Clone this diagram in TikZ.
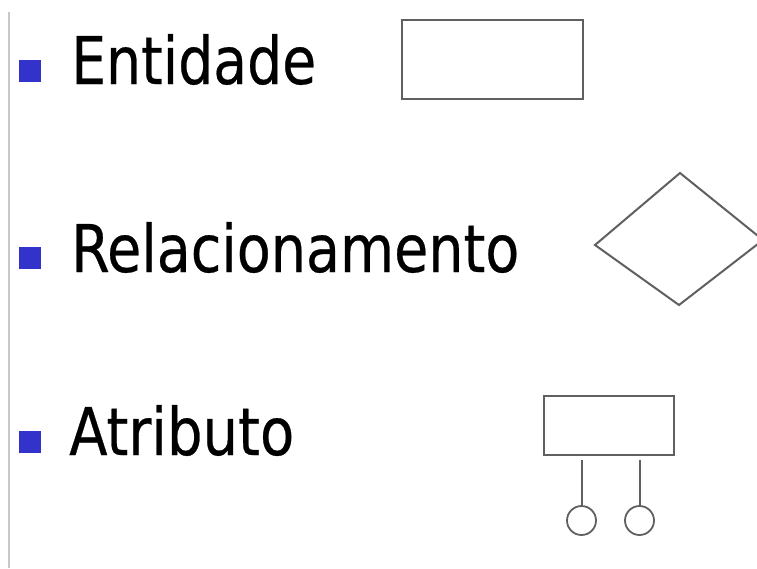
\documentclass[tikz,border=0pt]{standalone}
\usepackage{fontspec}
\setmainfont[FakeBold=0.4]{DejaVu Sans Condensed}
\usepackage{graphicx}
\definecolor{bulletblue}{HTML}{3333CC}
\definecolor{rulegray}{HTML}{C8C8C8}
\definecolor{shapegray}{HTML}{606060}
\begin{document}
\begin{tikzpicture}[x=1pt,y=-1pt,
  bulletsq/.style={fill=bulletblue,draw=none,minimum size=22pt,inner sep=0pt},
  label/.style={inner sep=0pt,anchor=base west,text=black},
  shapeline/.style={draw=shapegray,line width=2pt},
  attrcircle/.style={circle,draw=shapegray,line width=1.8pt,minimum size=29pt,inner sep=0pt}]
\useasboundingbox (0,0) rectangle (757,568);
\clip (0,0) rectangle (757,568);
\fill[white] (0,0) rectangle (757,568);
% left rule
\coordinate (ruletop) at (9,12);
\coordinate (rulebot) at (9,568);
\draw[rulegray,line width=1.5pt] (ruletop) -- (rulebot);
% bullets
\node[bulletsq] (b1) at (29.5,71) {};
\node[bulletsq] (b2) at (29.5,257.5) {};
\node[bulletsq] (b3) at (29.5,441.5) {};
% labels
\node[label] (t1) at (71,84) {\resizebox{245pt}{50pt}{Entidade}};
\node[label] (t2) at (71,272) {\resizebox{448pt}{50pt}{Relacionamento}};
\node[label] (t3) at (69,455) {\resizebox{225pt}{50pt}{Atributo}};
% entity rectangle
\node[shapeline,rectangle,minimum width=181pt,minimum height=79pt,inner sep=0pt] (ent) at (492.5,59.5) {};
% relationship diamond
\coordinate (dtop) at (680,173);
\coordinate (dleft) at (595,245);
\coordinate (dbot) at (679,305);
\coordinate (dright) at (763,240);
\draw[shapeline,line join=miter] (dtop) -- (dleft) -- (dbot) -- (dright) -- cycle;
% attribute
\node[shapeline,rectangle,minimum width=130pt,minimum height=59pt,inner sep=0pt] (attr) at (609,425.5) {};
\node[attrcircle] (c1) at (581.5,520.5) {};
\node[attrcircle] (c2) at (639.5,520.5) {};
\draw[draw=shapegray,line width=2pt,shorten >=4pt] (c1.north) -- (c1.north |- attr.south);
\draw[draw=shapegray,line width=2pt,shorten >=4pt] (c2.north) -- (c2.north |- attr.south);
\end{tikzpicture}
\end{document}
